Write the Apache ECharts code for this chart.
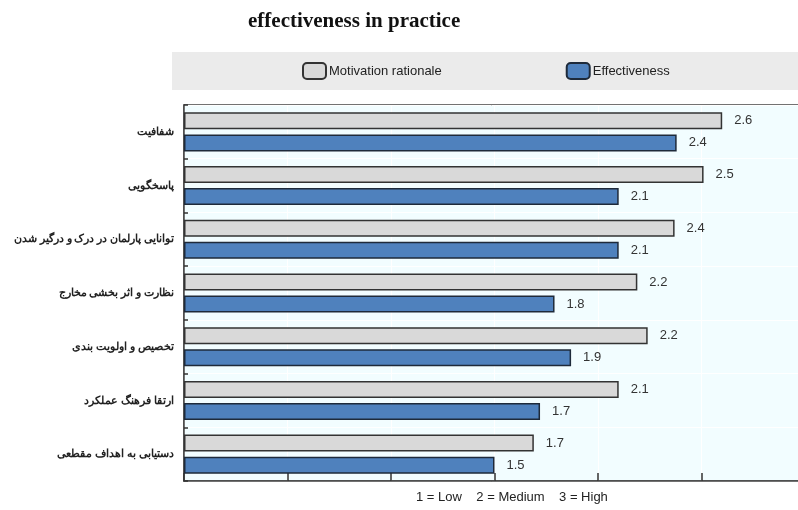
<!DOCTYPE html>
<html>
<head>
<meta charset="utf-8">
<script src="https://cdn.jsdelivr.net/npm/echarts@6/dist/echarts.min.js"></script>
<style>
  html, body { margin: 0; padding: 0; background: #fff; }
  #chart { width: 798px; height: 510px; }
</style>
</head>
<body>
<div id="chart"></div>
<script>
// 类别（从上到下）
var categories = [
  'شفافیت',
  'پاسخگویی',
  'توانایی پارلمان در درک و درگیر شدن',
  'نظارت و اثر بخشی مخارج',
  'تخصیص و اولویت بندی',
  'ارتقا فرهنگ عملکرد',
  'دستیابی به اهداف مقطعی'
];
var motivation = [2.6, 2.51, 2.37, 2.19, 2.24, 2.1, 1.69];
var effectiveness = [2.38, 2.1, 2.1, 1.79, 1.87, 1.72, 1.5];
var seriesNames = ['Motivation rationale', 'Effectiveness'];

var chart = echarts.init(document.getElementById('chart'));

var labelStyle = {
  show: true,
  position: 'right',
  distance: 12,
  color: '#333',
  fontFamily: 'Liberation Sans',
  fontSize: 13,
  formatter: function (p) { return p.value.toFixed(1); }
};

chart.setOption({
  animation: false,
  title: {
    text: 'effectiveness in practice',
    left: 243,
    top: 6,
    textStyle: {
      fontFamily: 'Liberation Serif',
      fontWeight: 'bold',
      fontSize: 21,
      color: '#111'
    }
  },
  graphic: [
    {
      type: 'rect',
      shape: { x: 172, y: 52, width: 626, height: 38 },
      style: { fill: '#ebebeb' },
      z: -1
    },
    {
      type: 'text',
      left: 416,
      top: 491,
      style: {
        text: '1 = Low    2 = Medium    3 = High',
        fontFamily: 'Liberation Sans',
        fontSize: 13,
        fill: '#222'
      }
    }
  ],
  legend: {
    left: 297,
    top: 57,
    itemWidth: 23,
    itemHeight: 16,
    itemGap: 124,
    icon: 'roundRect',
    textStyle: {
      fontFamily: 'Liberation Sans',
      fontSize: 13,
      color: '#222',
      padding: [0, 0, 0, -2]
    },
    data: seriesNames
  },
  grid: {
    left: 184,
    top: 105,
    right: -7,
    bottom: 29,
    outerBoundsMode: 'none',
    show: true,
    backgroundColor: '#f2fdff',
    borderColor: '#444',
    borderWidth: 1.5
  },
  xAxis: {
    type: 'value',
    min: 0,
    max: 3,
    interval: 0.5,
    axisLine: { show: true, lineStyle: { color: '#444', width: 1.5 } },
    axisTick: { show: true, inside: true, length: 8, lineStyle: { color: '#333', width: 1.5 } },
    axisLabel: { show: false },
    splitLine: { show: true, lineStyle: { color: '#ffffff', width: 1 } }
  },
  yAxis: {
    type: 'category',
    inverse: true,
    data: categories,
    axisLine: { show: true, lineStyle: { color: '#444', width: 1.5 } },
    axisTick: { show: true, inside: true, length: 4, lineStyle: { color: '#333', width: 1.5 } },
    axisLabel: {
      margin: 10,
      fontFamily: 'Noto Sans',
      fontWeight: 'bold',
      fontSize: 11,
      color: '#222'
    },
    splitLine: { show: true, lineStyle: { color: '#ffffff', width: 1 } }
  },
  series: [
    {
      name: seriesNames[0],
      type: 'bar',
      data: motivation,
      barWidth: 17,
      barGap: '30%',
      itemStyle: { color: '#d9d9d9', borderColor: '#333', borderWidth: 1.5 },
      label: labelStyle
    },
    {
      name: seriesNames[1],
      type: 'bar',
      data: effectiveness,
      barWidth: 17,
      barGap: '30%',
      itemStyle: { color: '#4f81bd', borderColor: '#1e2a3a', borderWidth: 1.5 },
      label: labelStyle
    }
  ]
});
</script>
</body>
</html>
